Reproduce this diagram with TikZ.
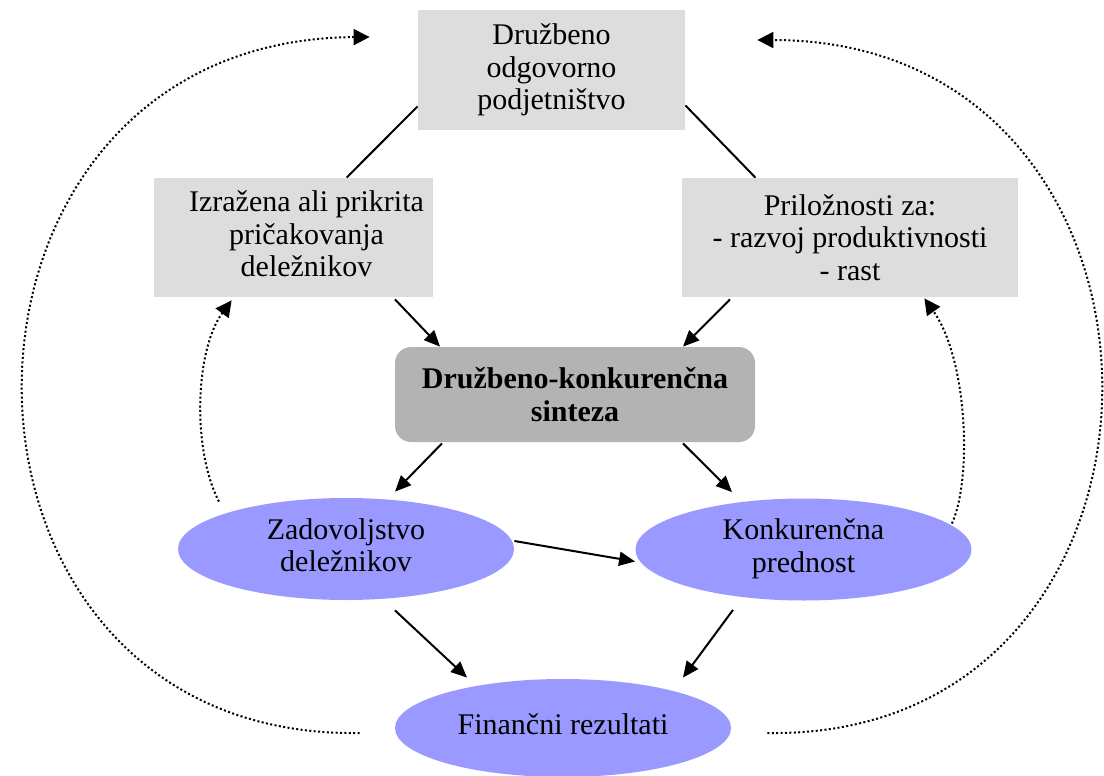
\documentclass[tikz,border=0pt]{standalone}
\usepackage{fontspec}
\setmainfont{Liberation Serif}
\usetikzlibrary{arrows.meta,shapes.geometric}
\begin{document}
\begin{tikzpicture}[x=0.5pt,y=-0.5pt,
  every node/.style={font=\fontsize{15}{16.3}\selectfont, align=center, inner sep=0pt},
  graybox/.style={rectangle, fill=boxgray, minimum width=#1},
  synthbox/.style={rectangle, rounded corners=8pt, fill=synthgray, minimum width=180pt, minimum height=47.5pt, font=\fontsize{15}{16.3}\selectfont\bfseries},
  goal/.style={ellipse, fill=goalblue, minimum width=168pt, minimum height=51pt},
  link/.style={line width=1pt},
  flow/.style={line width=1pt, -{Triangle[length=8pt,width=7pt]}},
  feedback/.style={line width=1pt, dash pattern=on 1pt off 1.2pt, -{Triangle[length=8pt,width=8pt]}}
]
\definecolor{boxgray}{HTML}{DDDDDD}
\definecolor{synthgray}{HTML}{B3B3B3}
\definecolor{goalblue}{HTML}{9999FF}
\useasboundingbox (0,0) rectangle (1104,776);

% boxes
\node[graybox=133.5pt, minimum height=60pt] (top) at (551.5,70) {Družbeno\\odgovorno\\podjetništvo};
\node[graybox=139.5pt, minimum height=59.5pt] (lbox) at (293.5,237.5)
  {\hspace*{13pt}\begin{tabular}{@{}c@{}}Izražena ali prikrita\\pričakovanja\\deležnikov\end{tabular}};
\node[graybox=168pt, minimum height=59.5pt] (rbox) at (850,237.5) {Priložnosti za:\\- razvoj produktivnosti\\- rast};
\node[synthbox] (mid) at (575,394.5) {Družbeno-konkurenčna\\sinteza};

% outcomes
\node[goal] (lell) at (346,549) {\raisebox{-1.5pt}{\begin{tabular}{@{}c@{}}Zadovoljstvo\\deležnikov\end{tabular}}};
\node[goal] (rell) at (803.5,549.5) {\raisebox{-1pt}{\begin{tabular}{@{}c@{}}Konkurenčna\\prednost\end{tabular}}};
\node[goal, minimum height=49pt] (fin) at (563,728) {\raisebox{4pt}{Finančni rezultati}};

% plain links
\draw[link] ([yshift=12pt]top.south west) -- ([xshift=96.5pt]lbox.north west);
\draw[link] ([yshift=12.5pt]top.south east) -- ([xshift=-131.5pt]rbox.north east);

% flow arrows
\draw[flow] ([xshift=50.75pt,yshift=-1pt]lbox.south) -- ([xshift=-67.5pt]mid.north);
\draw[flow] ([xshift=-60pt,yshift=-1pt]rbox.south) -- ([xshift=54pt]mid.north);
\draw[flow] ([xshift=-66.5pt,yshift=-0.5pt]mid.south) -- ([xshift=24.5pt,yshift=3pt]lell.north);
\draw[flow] ([xshift=54pt,yshift=-0.5pt]mid.south) -- ([xshift=-35.75pt,yshift=3pt]rell.north);
\draw[flow] ([yshift=4pt]lell.east) -- ([yshift=-6pt]rell.west);
\draw[flow] ([xshift=24.5pt,yshift=-5pt]lell.south) -- ([xshift=-48pt,yshift=0.5pt]fin.north);
\draw[flow] ([xshift=-35.25pt,yshift=-4.5pt]rell.south) -- ([xshift=60pt,yshift=0.5pt]fin.north);

% feedback loops
\draw[feedback] ([xshift=-17.5pt,yshift=-2.5pt]fin.west) .. controls (-90,740) and (-90,40) .. ([xshift=-24pt,yshift=16.5pt]top.west);
\draw[feedback] ([xshift=18pt,yshift=-2.5pt]fin.east) .. controls (1213,740) and (1213,40) .. ([xshift=36pt,yshift=15pt]top.east);
\draw[feedback] ([xshift=-63.5pt,yshift=-2pt]lell.north) .. controls (192,450) and (195,350) .. ([xshift=39pt,yshift=-1.5pt]lbox.south west);
\draw[feedback] ([xshift=-10pt,yshift=13pt]rell.east) .. controls (972,480) and (968,360) .. ([xshift=-47pt,yshift=-0.5pt]rbox.south east);
\end{tikzpicture}
\end{document}
